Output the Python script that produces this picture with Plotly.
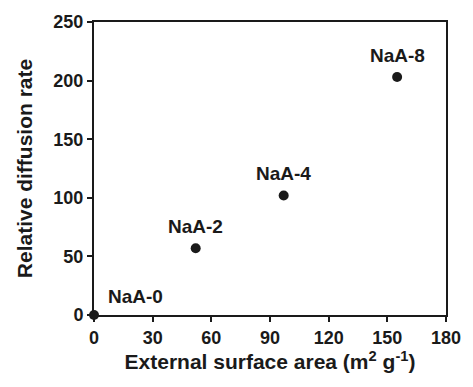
import plotly.graph_objects as go

samples = ["NaA-0", "NaA-2", "NaA-4", "NaA-8"]
surface_area = [0, 52, 97, 155]
diffusion_rate = [0, 57, 102, 203]
x_ticks = [0, 30, 60, 90, 120, 150, 180]
y_ticks = [0, 50, 100, 150, 200, 250]

FONT = "Liberation Sans, Arial, sans-serif"
INK = "#1a1a1a"

fig = go.Figure()
fig.add_trace(go.Scatter(
    x=surface_area, y=diffusion_rate, mode="markers",
    marker=dict(size=10, color=INK),
    cliponaxis=False, showlegend=False,
))

for s, x, y in zip(samples, surface_area, diffusion_rate):
    if x == 0:
        fig.add_annotation(x=x, y=y, text=s, showarrow=False,
                           xanchor="left", yanchor="middle", xshift=12, yshift=19,
                           font=dict(family=FONT, size=19, color=INK, weight="bold"))
    else:
        fig.add_annotation(x=x, y=y, text=s, showarrow=False,
                           xanchor="center", yanchor="middle", yshift=22,
                           font=dict(family=FONT, size=19, color=INK, weight="bold"))

axis_common = dict(
    showline=True, linecolor=INK, linewidth=2, mirror=True,
    ticks="outside", ticklen=5, tickwidth=2, tickcolor=INK,
    showgrid=False, zeroline=False,
    tickfont=dict(family=FONT, size=18, color=INK, weight="bold"),
)

fig.update_xaxes(range=[0, 180], tickvals=x_ticks,
                 title=dict(text="External surface area (m<sup>2</sup> g<sup>-1</sup>)",
                            font=dict(family=FONT, size=21, color=INK, weight="bold"), standoff=7),
                 **axis_common)
fig.update_yaxes(range=[0, 250], tickvals=y_ticks,
                 title=dict(text="Relative diffusion rate",
                            font=dict(family=FONT, size=21, color=INK, weight="bold"), standoff=15),
                 **axis_common)

fig.update_layout(
    width=473, height=387,
    margin=dict(l=94, r=18, t=19, b=72),
    plot_bgcolor="white", paper_bgcolor="white",
)

fig.write_html("out.html")
